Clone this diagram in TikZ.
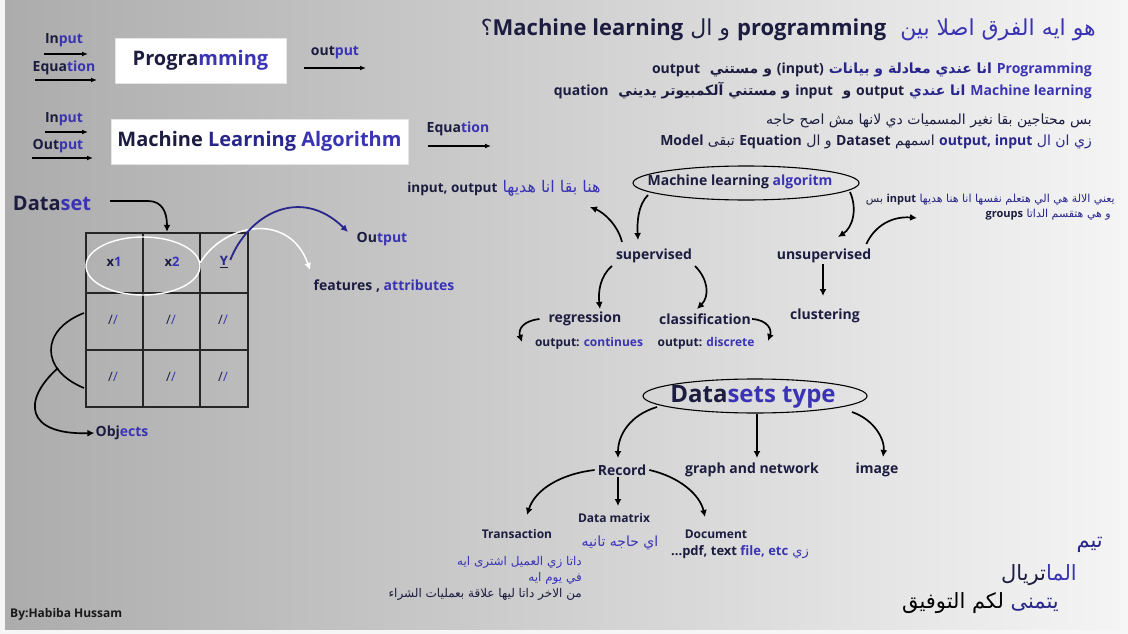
\documentclass[tikz,border=0pt]{standalone}
\usepackage{fontspec}
\setmainfont{Open Sans}
\newfontfamily\arf[Script=Arabic]{DejaVu Sans}
\TeXXeTstate=1
\usetikzlibrary{arrows.meta}
\definecolor{nv}{RGB}{28,28,64}
\definecolor{bl}{RGB}{58,52,180}
\definecolor{dbl}{RGB}{40,38,140}
\definecolor{bgl}{RGB}{172,172,172}
\definecolor{bgr}{RGB}{244,244,244}
\definecolor{bgw}{RGB}{246,246,246}
\newcommand\fs[1]{\fontsize{#1}{#1}\selectfont}
% Arabic phrase (right to left) and Latin words, placed in visual order
\newcommand\AR[2]{{\color{#1}\beginR #2\endR}}
\newcommand\LW[2]{{\color{#1}\normalfont\bfseries #2}}
\begin{document}
\begin{tikzpicture}[x=1pt,y=-1pt,
  lab/.style={font=\bfseries\fs{14}, text=nv, inner sep=1pt},
  arab/.style={font=\arf\fs{14}, text=nv, inner sep=1pt},
  arr/.style={-{Latex[length=7pt,width=7pt]}, line width=1.7pt, black},
  thin arr/.style={-{Latex[length=6pt,width=5pt]}, line width=1.3pt, black},
  whitebox/.style={fill=white, draw=white!80!gray, inner sep=0pt},
  cell/.style={font=\bfseries\fs{13}, text=nv, inner sep=0pt}]
\useasboundingbox (0,0) rectangle (1128,634);
\fill[bgw] (0,0) rectangle (1128,634);
\shade[left color=bgl, right color=bgr] (5,0) rectangle (1120,629);

% ---------- top left ----------
\node[lab] (in1) at (64,40) {In{\color{bl}put}};
\draw[thin arr] (44,54) -- (88,54);
\node[lab] (eq1) at (64,68) {Equa{\color{bl}tion}};
\draw[thin arr] (35,80) -- (97,80);
\node[whitebox, minimum width=171, minimum height=45] (prog) at (200.5,60.5) {};
\node[font=\bfseries\fs{20}, text=nv] at (prog) {Progra{\color{bl}mming}};
\node[lab] (out1) at (335,53) {out{\color{bl}put}};
\draw[thin arr] (304,68) -- (366,68);

\node[lab] (in2) at (64,119) {In{\color{bl}put}};
\draw[thin arr] (45,132) -- (88,132);
\node[lab] (out2) at (58,146) {Out{\color{bl}put}};
\draw[thin arr] (32,158) -- (93,158);
\node[whitebox, minimum width=297, minimum height=45] (mlbox) at (259.5,141.5) {};
\node[font=\bfseries\fs{20}, text=nv] at (mlbox) {Machine {\color{dbl}Learning} {\color{bl}Algorithm}};
\node[lab] (eq2) at (458,129) {Equa{\color{bl}tion}};
\draw[thin arr] (428,146) -- (491,146);

% ---------- top right Arabic ----------
\node[arab, anchor=east, font=\arf\fs{22}] (title) at (1097,30)
  {\AR{nv}{؟}\LW{nv}{Machine learning} \AR{nv}{و ال} \LW{nv}{programming}\ \ \AR{bl}{هو ايه الفرق اصلا بين}};
\node[arab, anchor=east, font=\arf\bfseries\fs{14}] (l1) at (1093,70)
  {\LW{nv}{output}\ \ \AR{nv}{و مستني} \LW{nv}{(input)} \AR{dbl}{انا عندي معادلة و بيانات} \LW{bl}{Programming}};
\node[arab, anchor=east, font=\arf\bfseries\fs{14}] (l2) at (1093,91)
  {\LW{nv}{quation}\ \ \AR{nv}{و مستني آلكمبيوتر يديني} \LW{nv}{input}\ \ \AR{nv}{و} \LW{nv}{output} \AR{dbl}{انا عندي} \LW{bl}{Machine learning}};
\node[arab, anchor=east] (l3) at (1093,121)
  {\AR{nv}{بس محتاجين بقا نغير المسميات دي لانها مش اصح حاجه}};
\node[arab, anchor=east] (l4) at (1093,142)
  {\LW{nv}{Model} \AR{nv}{تبقى} \LW{nv}{Equation} \AR{nv}{و ال} \LW{nv}{Dataset} \AR{nv}{اسمهم} \LW{dbl}{output, input} \AR{dbl}{زي ان ال}};

% ---------- dataset table ----------
\node[font=\bfseries\fs{20}, text=nv, inner sep=0pt] (dset) at (52,203) {Data{\color{bl}set}};
\node[draw=black!85, line width=2.4pt, minimum width=162, minimum height=174, inner sep=0pt] (tbl) at (167,320) {};
\draw[black!85, line width=2.4pt] (143,233) -- (143,407) (200,233) -- (200,407)
  (86,293) -- (248,293) (86,350) -- (248,350);
\node[cell] (x1) at (114,262) {x{\color{bl}1}};
\node[cell] (x2) at (172,262) {x{\color{bl}2}};
\node[cell] (yy) at (224,262) {\underline{{\color{dbl}Y}}};
\foreach \cx/\nm in {113/a,171/b,223/c}{
  \node[cell, font=\fs{13}] (s1\nm) at (\cx,320) {/{\color{bl}/}};
  \node[cell, font=\fs{13}] (s2\nm) at (\cx,377) {/{\color{bl}/}};
}
\draw[arr] (110,201) -- (148,201) .. controls (162,201) and (167,212) .. (tbl.north -| 167,0);
\draw[white, line width=1.4pt] (143,266) ellipse (57 and 29);
\draw[white, line width=1.5pt, -{Latex[length=7pt,width=7pt]}] (200,263) .. controls (225,222) and (290,212) .. (310,270);
\node[lab] (outp) at (382,239) {Ou{\color{bl}tput}};
\node[lab] (feat) at (384,286) {features , {\color{bl}attributes}};
\draw[dbl, line width=1.8pt, -{Latex[length=7pt,width=7pt]}] (yy.east) ++(2,-2) .. controls (248,215) and (300,185) .. (348,232);
\draw[line width=1.6pt] (84,313) .. controls (40,330) and (40,370) .. (84,388);
\node[lab] (obj) at (122,433) {Obj{\color{bl}ects}};
\draw[arr] (58,368) .. controls (22,400) and (25,435) .. (obj.west);

% ---------- ML algorithm tree ----------
\node[lab] (mla) at (740,182) {Machine learning {\color{bl}algoritm}};
\draw[line width=1.1pt] (746,183) ellipse (113 and 17);
\node[arab, font=\arf\fs{16}] (hna) at (504,188) {\LW{nv}{\fs{13.5}input, output} \AR{bl}{هنا بقا انا هديها}};
\node[lab] (sup) at (654,256) {supervised};
\node[lab] (unsup) at (824,256) {unsupervised};
\node[lab] (reg) at (585,319) {regression};
\node[lab] (cls) at (705,319) {classification};
\node[lab] (clu) at (825,316) {clustering};
\node[lab, font=\bfseries\fs{12}] (oc) at (589,343) {output: {\color{bl}continues}};
\node[lab, font=\bfseries\fs{12}] (od) at (706,343) {output: {\color{bl}discrete}};
\draw[arr] (648,195) .. controls (638,205) and (637,222) .. (638,240);
\draw[arr] (622,242) .. controls (618,226) and (605,213) .. (590,207);
\draw[arr] (850,192) .. controls (858,210) and (852,228) .. (838,237);
\draw[arr] (unsup.south -| 823,0) -- (823,296);
\draw[arr] (612,266) .. controls (600,276) and (598,292) .. (600,309);
\draw[arr] (695,266) .. controls (708,279) and (710,296) .. (697,309);
\draw[arr] (reg.west) ++(-8,0) .. controls (522,321) and (518,330) .. (522,342);
\draw[arr] (cls.east) .. controls (768,320) and (772,330) .. (768,341);
\draw[arr] (unsup.east) ++(-6,-12) .. controls (875,225) and (893,216) .. (917,218);
\node[arab, anchor=east, font=\arf\fs{11}] (yani1) at (1116,200)
  {\AR{nv}{بس} \LW{nv}{input} \AR{dbl}{يعني الالة هي الي هتعلم نفسها انا هنا هديها}};
\node[arab, anchor=east, font=\arf\fs{11}] (yani2) at (1112,215)
  {\LW{nv}{groups} \AR{dbl}{و هي هتقسم الداتا}};

% ---------- datasets type ----------
\node[font=\bfseries\fs{24}, text=nv, inner sep=0pt] (dst) at (753,397) {Data{\color{bl}sets type}};
\draw[line width=1.1pt] (755,396) ellipse (112 and 17);
\node[lab] (rec) at (622,470) {Record};
\node[lab] (gn) at (752,470) {graph and network};
\node[lab] (img) at (877,470) {image};
\draw[arr] (657,407) .. controls (630,415) and (618,435) .. (618,458);
\draw[arr] (757,414) -- (757,458);
\draw[arr] (852,412) .. controls (875,420) and (885,440) .. (883,457);
\node[lab, font=\bfseries\fs{12}] (tra) at (517,534) {Transaction};
\node[lab, font=\bfseries\fs{12}] (dmx) at (614,518) {Data matrix};
\node[lab, font=\bfseries\fs{12}] (doc) at (716,534) {Document};
\draw[arr] (rec.west) ++(-2,0) .. controls (560,474) and (535,490) .. (527,515);
\draw[arr] (rec.south -| 618,0) -- (618,506);
\draw[arr] (rec.east) ++(2,0) .. controls (680,477) and (700,495) .. (705,517);
\node[arab] (haga) at (620,543) {\AR{bl}{اي حاجه تانيه}};
\node[arab, font=\arf\fs{13}] (zay) at (740,552) {\LW{nv}{...pdf, text {\color{bl}file, etc}} \AR{bl}{زي}};
\node[arab, anchor=east, font=\arf\fs{12}] (t1) at (583,562) {\AR{bl}{داتا زي العميل اشترى ايه}};
\node[arab, anchor=east, font=\arf\fs{12}] (t2) at (583,578) {\AR{bl}{في يوم ايه}};
\node[arab, anchor=east, font=\arf\fs{12}] (t3) at (583,594) {\AR{nv}{من الاخر داتا ليها علاقة بعمليات الشراء}};

% ---------- bottom ----------
\node[arab, anchor=east, font=\arf\fs{21}] (team) at (1104,545) {\AR{dbl}{تيم}};
\node[arab, anchor=east, font=\arf\fs{21}] (mat) at (1078,575) {\AR{nv}{تريال}\AR{bl}{الما}};
\node[arab, anchor=east, font=\arf\fs{21}] (wish) at (1060,603) {\AR{black}{لكم التوفيق} \AR{dbl}{يتمنى}};
\node[lab, font=\bfseries\fs{12}, anchor=west, text=black!90] (by) at (9,614) {By:Habiba Hussam};
\end{tikzpicture}
\end{document}
